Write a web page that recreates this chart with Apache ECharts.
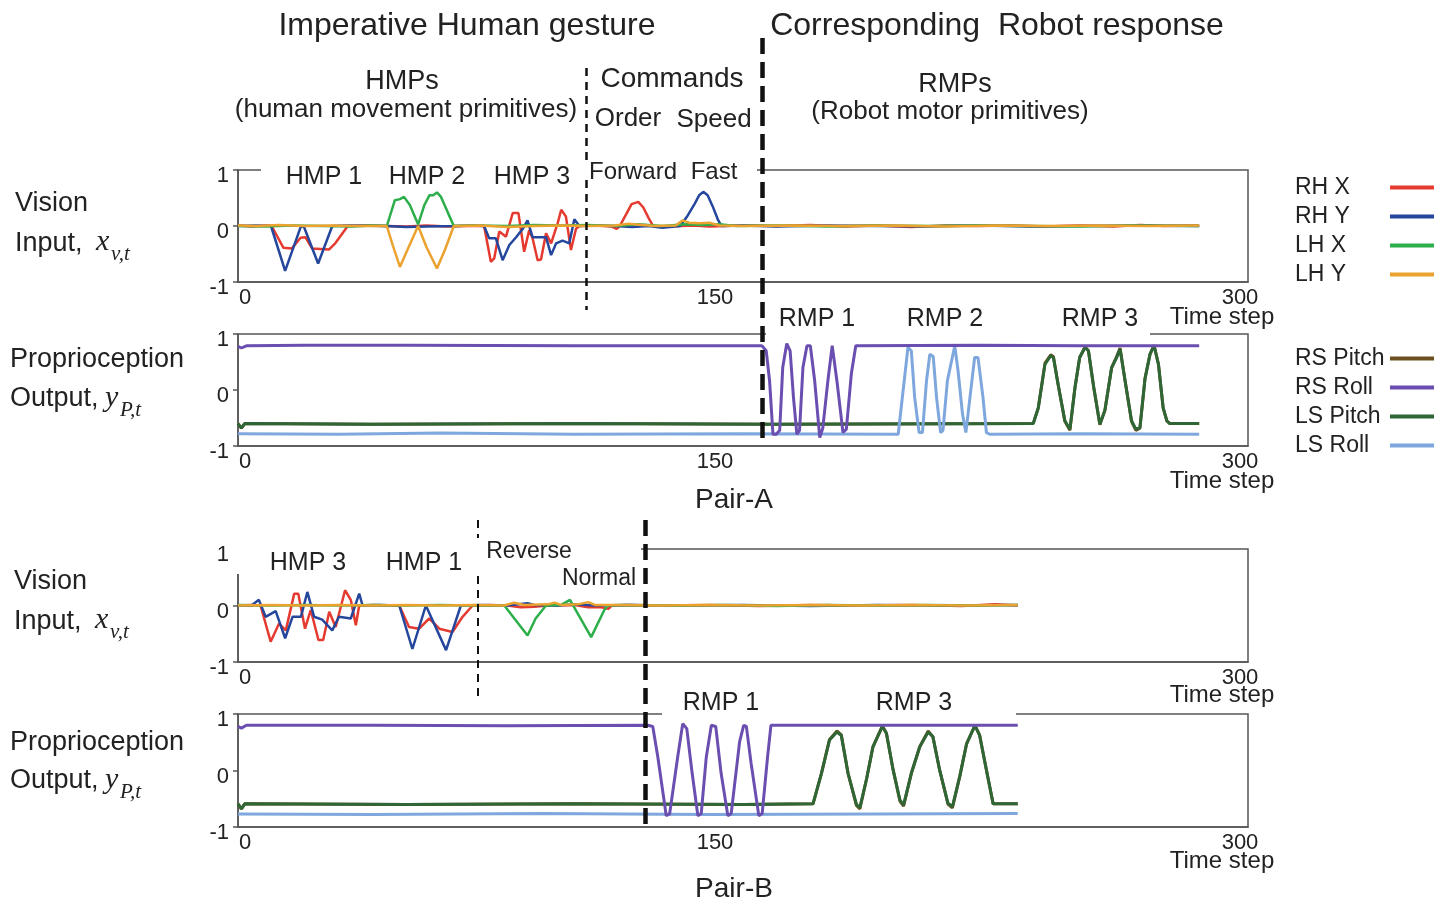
<!DOCTYPE html>
<html>
<head>
<meta charset="utf-8">
<script src="https://cdn.jsdelivr.net/npm/echarts@6/dist/echarts.min.js"></script>
<style>
html,body{margin:0;padding:0;background:#fff;}
#chart{width:1452px;height:905px;}
</style>
</head>
<body>
<div id="chart"></div>
<script>
// ---------------- DATA ([time step, value]) ----------------
const visionNames = ['RH X', 'RH Y', 'LH X', 'LH Y'];
const proprioNames = ['RS Pitch', 'RS Roll', 'LS Pitch', 'LS Roll'];
const xTicks = [0, 150, 300];
const yTicks = [-1, 0, 1];
const dividerT = [103.4, 155.6, 71.3, 120.9];

// Pair-A vision
const A_RHX = [[0,0.01],[4,-0.01],[9,0.01],[10,0],[13.5,-0.39],[16,-0.4],[18.6,-0.21],[20,-0.2],[22,-0.4],[27,-0.42],[29,-0.3],[32.6,0],[38,0.01],[44,0],[50,-0.01],[56,0.01],[62,-0.01],[68,0],[73.1,0],[75.1,-0.64],[76.1,-0.58],[77.6,-0.1],[79.6,-0.19],[81.6,0.23],[83.3,0.23],[85,-0.46],[86.5,-0.07],[87.5,-0.22],[89,-0.61],[90,-0.6],[91.5,-0.13],[93,-0.31],[95,0.06],[96,0.29],[97.4,0.17],[98.9,-0.43],[100.4,-0.05],[101.4,0],[106,0.01],[111,-0.01],[112.5,-0.05],[113.4,0],[115.4,0.22],[116.9,0.39],[118.9,0.43],[120.4,0.33],[121.9,0.15],[123.3,0],[128,-0.01],[135,0.01],[140,-0.01],[150,0.01],[160,0],[170,0.02],[180,-0.01],[190,0.01],[200,-0.02],[210,0.01],[220,0],[230,0.01],[240,-0.01],[250,0.01],[260,-0.01],[268,0.02],[275,0],[285.5,0.01]];
const A_RHY = [[0,0],[5,0.01],[9.8,0],[14,-0.8],[18.6,-0.02],[19.5,0],[23.8,-0.67],[28,0],[32,0.01],[44,0],[50,-0.02],[56,-0.01],[64,0],[70,0.01],[73.1,0],[74.6,-0.22],[76.6,-0.22],[78.6,-0.61],[80.6,-0.34],[82.6,-0.2],[84.6,-0.05],[86,0.1],[87.5,-0.2],[91.5,-0.2],[93,-0.52],[94.5,-0.31],[96.4,-0.26],[98.4,-0.31],[99.9,0.12],[101.4,0],[106,0.01],[112,0],[117,-0.02],[122,0],[126,-0.03],[131.3,0],[133.5,0.18],[135.5,0.38],[137,0.55],[138.2,0.61],[139.5,0.55],[141,0.35],[142.5,0.12],[143.6,0],[150,0.01],[160,-0.01],[175,0.01],[190,0],[205,-0.01],[220,0.01],[235,-0.01],[250,0],[265,0.01],[285.5,0]];
const A_LHX = [[0,0],[8,-0.01],[16,0.01],[25,0],[34,-0.01],[40,0.01],[44.2,0],[46.6,0.46],[48.1,0.48],[49.3,0.52],[51,0.38],[53.5,0.03],[55.4,0.38],[56.9,0.55],[58,0.55],[59.1,0.6],[60.3,0.52],[62.4,0.23],[64.1,0],[70,0.01],[80,0],[88,0.02],[96,0.01],[104,0.02],[112,0],[119,0.03],[126,0],[133,0.03],[138,0.02],[143,0.03],[148,0],[160,0.01],[175,-0.01],[190,0.01],[205,0],[220,0.01],[235,0],[250,-0.01],[265,0.01],[285.5,0]];
const A_LHY = [[0,0.01],[6,0],[12,0.02],[20,0],[28,0.01],[36,0],[44.2,0],[46,-0.35],[48.1,-0.73],[50.5,-0.4],[53.5,0],[56,-0.38],[59.1,-0.76],[61.5,-0.42],[64.1,0],[72,0.01],[80,-0.02],[88,0],[96,0.01],[104,0],[112,0.01],[116,0.04],[120,0.02],[124,0],[130,0.01],[132,0.1],[134,0.06],[137,0.05],[140,0.06],[143,0.01],[150,0],[165,0.01],[180,0],[195,0.01],[210,-0.01],[225,0.01],[240,0],[255,0.01],[270,0],[285.5,0.01]];

// Pair-A proprioception
const A_RSPitch = [[0,-0.6],[1,-0.68],[2,-0.6],[40,-0.61],[100,-0.6],[160,-0.61],[236.2,-0.6],[237.7,-0.32],[239.7,0.48],[241.4,0.63],[242.2,0.6],[243.6,0.1],[245.6,-0.56],[247.1,-0.72],[248.6,0.04],[250,0.58],[251.6,0.77],[252.6,0.7],[254.2,0.04],[256,-0.62],[257.5,-0.36],[259.5,0.4],[261,0.6],[262,0.75],[263.5,0.16],[265.4,-0.56],[266.7,-0.72],[267.9,-0.68],[269.4,0.2],[270.9,0.64],[272.1,0.8],[273.4,0.46],[274.8,-0.32],[275.9,-0.55],[276.8,-0.6],[285.5,-0.6]];
const A_RSRoll = [[0,0.78],[1,0.75],[2.5,0.79],[20,0.8],[50,0.8],[100,0.79],[155.6,0.79],[156.9,0.7],[157.9,0.16],[158.9,-0.79],[159.9,-0.79],[160.9,-0.72],[161.8,0.4],[163,0.83],[164,0.7],[165,-0.14],[166,-0.79],[166.8,-0.72],[167.8,0.4],[169,0.79],[170,0.79],[171.3,0.16],[172.8,-0.85],[173.7,-0.68],[175.2,0.16],[176.5,0.79],[177.9,0.16],[179.7,-0.76],[180.7,-0.7],[182.2,0.3],[183.5,0.79],[220,0.8],[250,0.79],[285.5,0.79]];
const A_LSPitch = [[0,-0.6],[1,-0.68],[2,-0.6],[40,-0.61],[100,-0.6],[160,-0.61],[236.2,-0.6],[237.7,-0.32],[239.7,0.46],[241.4,0.61],[242.2,0.58],[243.6,0.1],[245.6,-0.55],[247.1,-0.7],[248.6,0.04],[250,0.58],[251.6,0.76],[252.6,0.7],[254.2,0.04],[256,-0.61],[257.5,-0.36],[259.5,0.4],[261,0.58],[262,0.73],[263.5,0.16],[265.4,-0.55],[266.7,-0.7],[267.9,-0.67],[269.4,0.2],[270.9,0.64],[272.1,0.79],[273.4,0.46],[274.8,-0.32],[275.9,-0.55],[276.8,-0.6],[285.5,-0.6]];
const A_LSRoll = [[0,-0.78],[30,-0.79],[60,-0.77],[100,-0.79],[150,-0.78],[196.1,-0.79],[199,0.76],[200,0.7],[201,-0.14],[202.3,-0.76],[203.3,-0.76],[204.5,0.16],[205.5,0.64],[206.5,0.6],[207.5,-0.14],[208.7,-0.76],[209.4,-0.72],[210.7,0.16],[212.9,0.79],[213.9,0.33],[215.2,-0.43],[216.2,-0.76],[217.4,-0.14],[218.8,0.58],[219.8,0.58],[221.3,-0.14],[222.3,-0.76],[223.3,-0.79],[250,-0.78],[285.5,-0.79]];

// Pair-B vision
const B_RHX = [[0,0],[4,0.01],[6.7,0],[9.7,-0.64],[12.2,-0.32],[14.2,-0.44],[16.7,0.21],[17.9,0.21],[19.9,-0.41],[21.6,-0.08],[23.9,-0.61],[25.3,-0.61],[27.1,-0.11],[29,-0.38],[31.8,0.27],[33.5,0.1],[35,-0.35],[36,0],[40,0.01],[47.9,0],[50.8,-0.38],[53.8,-0.41],[56.8,-0.23],[59.8,-0.41],[63.7,-0.47],[66.7,-0.2],[69.7,0],[75,0.01],[80,0],[84,-0.03],[88,-0.02],[92,0],[100,0.01],[104,-0.03],[108,-0.03],[110,-0.06],[111,0],[116,0.01],[125,0],[140,0.01],[155,-0.01],[170,0.01],[185,0],[200,0.01],[215,-0.01],[225,0.02],[231.6,0]];
const B_RHY = [[0,0],[4,0],[6.2,0.1],[8.2,-0.2],[11.2,-0.1],[14,-0.58],[16.2,-0.2],[18.7,-0.2],[20.6,0.24],[22.6,-0.2],[25,-0.25],[28,-0.44],[30,-0.2],[33.5,-0.23],[36,0.21],[37,0],[42,0.01],[47.9,0],[51.8,-0.77],[55.8,0],[61.8,-0.79],[66.2,0],[72,0.01],[80,0],[86,0.04],[88,0.01],[95,0],[100,0.02],[106,0],[115,0.01],[130,0],[150,0.01],[170,-0.01],[190,0.01],[210,0],[231.6,0.01]];
const B_LHX = [[0,0.01],[10,0],[20,0.01],[30,0],[40,0.01],[50,0],[60,0.01],[70,0],[79.1,0],[86,-0.53],[88.4,-0.23],[91.5,0],[96,0.01],[98.6,0.1],[104.9,-0.56],[108.8,-0.08],[109.8,0],[115,0.01],[130,0],[145,0.01],[160,-0.01],[175,0.01],[190,0],[205,0.01],[220,0],[231.6,0.01]];
const B_LHY = [[0,0],[10,0.01],[20,0],[30,0.01],[40,0],[50,0.01],[60,0],[70,0.01],[79,0],[82,0.05],[85,0.01],[92,0.02],[94,0.05],[96,0.01],[101,0.02],[104,0.06],[106,0.01],[112,0.01],[125,0],[140,0.01],[155,0],[170,0.01],[185,0],[200,0.01],[215,0],[231.6,0.01]];

// Pair-B proprioception
const B_RSPitch = [[0,-0.59],[1,-0.68],[2,-0.59],[50,-0.6],[100,-0.59],[150,-0.6],[170.8,-0.59],[173.3,-0.05],[175.7,0.55],[177.9,0.7],[179.2,0.63],[181.2,-0.05],[183.7,-0.62],[184.7,-0.68],[186.7,-0.15],[188.6,0.42],[191.4,0.79],[192.6,0.66],[194.6,0.01],[196.6,-0.54],[197.7,-0.63],[200,-0.05],[202.5,0.42],[205,0.7],[206.4,0.6],[208.4,0.01],[210.9,-0.6],[212.2,-0.66],[214.4,-0.1],[216.4,0.47],[218.9,0.8],[220.3,0.62],[222.3,0.01],[224.3,-0.59],[231.6,-0.59]];
const B_RSRoll = [[0,0.78],[1,0.75],[2.5,0.8],[40,0.8],[80,0.79],[121.7,0.8],[123.2,0.78],[124.7,0.24],[127.2,-0.8],[128.2,-0.77],[130.6,0.24],[132.1,0.83],[133.3,0.74],[134.9,-0.05],[136.6,-0.8],[137.6,-0.76],[139.1,0.24],[140.6,0.8],[141.9,0.78],[143.5,-0.05],[145.5,-0.8],[146.5,-0.76],[149,0.51],[150.2,0.8],[151,0.78],[152.4,0.13],[154.7,-0.8],[155.7,-0.76],[157.3,0.24],[158.3,0.8],[190,0.8],[231.6,0.8]];
const B_LSPitch = [[0,-0.59],[1,-0.68],[2,-0.59],[50,-0.6],[100,-0.59],[150,-0.6],[170.8,-0.59],[173.3,-0.05],[175.7,0.54],[177.9,0.68],[179.2,0.62],[181.2,-0.05],[183.7,-0.6],[184.7,-0.66],[186.7,-0.15],[188.6,0.42],[191.4,0.78],[192.6,0.66],[194.6,0.01],[196.6,-0.52],[197.7,-0.61],[200,-0.05],[202.5,0.42],[205,0.68],[206.4,0.6],[208.4,0.01],[210.9,-0.58],[212.2,-0.64],[214.4,-0.1],[216.4,0.47],[218.9,0.8],[220.3,0.62],[222.3,0.01],[224.3,-0.59],[231.6,-0.59]];
const B_LSRoll = [[0,-0.77],[40,-0.78],[90,-0.76],[140,-0.78],[190,-0.77],[231.6,-0.76]];

// ---------------- STYLE ----------------
const FONT = "'Liberation Sans', Arial, sans-serif";
const SERIF = "'Liberation Serif', 'DejaVu Serif', serif";
const colors = {
  'RH X': '#e53a2f', 'RH Y': '#24469c', 'LH X': '#2cae4a', 'LH Y': '#eba22f',
  'RS Pitch': '#6e5020', 'RS Roll': '#6b4fb0', 'LS Pitch': '#2f6636', 'LS Roll': '#7ea7de'
};
const AX = '#555';

const panels = [
  {top: 170, height: 112, show150: true},
  {top: 334, height: 112, show150: true},
  {top: 549, height: 113, show150: false},
  {top: 714, height: 113, show150: true}
];
const LEFT = 238, WIDTH = 1010;

const grids = panels.map(p => ({left: LEFT, width: WIDTH, top: p.top, height: p.height, show: true,
  borderColor: AX, borderWidth: 1.5, backgroundColor: 'transparent'}));
grids.push({left: LEFT, width: WIDTH, top: 0, height: 905, show: false});

const base = {fontSize: 22, fontFamily: FONT, color: '#222'};
const labRich = {
  a: Object.assign({}, base, {padding: [0, 0, 0, 14]}),
  b: Object.assign({}, base, {padding: [0, 56, 0, 0]}),
  c: Object.assign({}, base, {padding: [0, 16, 0, 0]})
};
const yRich = {v: Object.assign({}, base, {padding: [12, 0, 0, 0]})};
const xAxes = panels.map((p, i) => ({
  gridIndex: i, type: 'value', min: xTicks[0], max: xTicks[2], interval: xTicks[1] - xTicks[0],
  axisLine: {show: true, onZero: false, lineStyle: {color: AX, width: 1.5}},
  axisTick: {show: false}, splitLine: {show: false},
  axisLabel: {margin: 5, formatter: v => v === 0 ? '{a|0}' : (v === 150 ? (p.show150 ? '{b|150}' : '') : '{c|300}'), rich: labRich}
}));
xAxes.push({gridIndex: 4, type: 'value', min: 0, max: 300, show: false});
const yAxes = panels.map((p, i) => ({
  gridIndex: i, type: 'value', min: yTicks[0], max: yTicks[2], interval: 1,
  axisLine: {show: true, onZero: false, lineStyle: {color: AX, width: 1.5}},
  axisTick: {show: true, length: 5, lineStyle: {color: AX, width: 1.5}},
  splitLine: {show: false},
  axisLabel: {margin: 9, formatter: v => '{v|' + v + '}', rich: yRich}
}));
yAxes.push({gridIndex: 4, type: 'value', min: 0, max: 905, inverse: true, show: false});

function mk(name, data, gi, w) {
  return {name, type: 'line', xAxisIndex: gi, yAxisIndex: gi, data, symbol: 'none', showSymbol: false,
    lineStyle: {color: colors[name], width: w}, itemStyle: {color: colors[name]}, z: 2, silent: true};
}
const series = [
  mk('RH X', A_RHX, 0, 2.5), mk('RH Y', A_RHY, 0, 2.5), mk('LH X', A_LHX, 0, 2.5), mk('LH Y', A_LHY, 0, 2.5),
  mk('RS Pitch', A_RSPitch, 1, 3), mk('LS Pitch', A_LSPitch, 1, 3), mk('LS Roll', A_LSRoll, 1, 3), mk('RS Roll', A_RSRoll, 1, 3),
  mk('RH X', B_RHX, 2, 2.5), mk('RH Y', B_RHY, 2, 2.5), mk('LH X', B_LHX, 2, 2.5), mk('LH Y', B_LHY, 2, 2.5),
  mk('RS Pitch', B_RSPitch, 3, 3), mk('LS Pitch', B_LSPitch, 3, 3), mk('LS Roll', B_LSRoll, 3, 3), mk('RS Roll', B_RSRoll, 3, 3)
];
const thin = {color: '#111', width: 2.5, type: [8, 6]};
const thick = {color: '#111', width: 4.5, type: [16, 8]};
series.push({
  type: 'line', xAxisIndex: 4, yAxisIndex: 4, data: [[0, -100]], symbol: 'none', z: 100, silent: true,
  lineStyle: {width: 0},
  markLine: {symbol: ['none', 'none'], silent: true, label: {show: false}, animation: false,
    data: [
      [{coord: [dividerT[0], 68], lineStyle: thin}, {coord: [dividerT[0], 310]}],
      [{coord: [dividerT[1], 38], lineStyle: thick}, {coord: [dividerT[1], 446]}],
      [{coord: [dividerT[2], 520], lineStyle: Object.assign({}, thin, {width: 2})}, {coord: [dividerT[2], 697]}],
      [{coord: [dividerT[3], 520], lineStyle: thick}, {coord: [dividerT[3], 832]}]
    ]}
});

function T(text, x, y, size, align, extra) {
  return Object.assign({type: 'text', x, y, z: 60, silent: true,
    style: Object.assign({text, fontSize: size, fontFamily: FONT, fill: '#222',
      align: align || 'center', verticalAlign: 'middle', textAlign: align || 'center', textVerticalAlign: 'middle'}, extra || {})});
}
function M(text, x, y, size) {
  return T(text, x, y, size, 'left', {fontFamily: SERIF, fontStyle: 'italic'});
}
function R(x, y, w, h) {
  return {type: 'rect', z: 50, silent: true, shape: {x, y, width: w, height: h}, style: {fill: '#fff'}};
}

const graphics = [
  R(261, 162, 496, 14), R(766, 327, 384, 14), R(233, 538, 408, 36), R(662, 707, 354, 14),
  T('Imperative Human gesture', 467, 26, 32),
  T('Corresponding  Robot response', 997, 26, 32),
  T('HMPs', 402, 82, 27),
  T('(human movement primitives)', 406, 110, 26),
  T('Commands', 672, 79, 28),
  T('Order', 628, 119, 26), T('Speed', 714, 120, 26),
  T('RMPs', 955, 85, 27),
  T('(Robot motor primitives)', 950, 112, 26),
  T('HMP 1', 324, 177, 25), T('HMP 2', 427, 177, 25), T('HMP 3', 532, 177, 25),
  T('Forward', 633, 172, 24), T('Fast', 714, 172, 24),
  T('RMP 1', 817, 319, 25), T('RMP 2', 945, 319, 25), T('RMP 3', 1100, 319, 25),
  T('Time step', 1222, 317, 24), T('Time step', 1222, 481, 24), T('Time step', 1222, 695, 24), T('Time step', 1222, 861, 24),
  T('Pair-A', 734, 500, 28), T('Pair-B', 734, 889, 28),
  T('Vision', 15, 204, 27, 'left'), T('Input,', 15, 244, 27, 'left'), M('x', 96, 242, 30), M('v,t', 111, 254, 21),
  T('Proprioception', 10, 360, 27, 'left'), T('Output,', 10, 399, 27, 'left'), M('y', 105, 398, 30), M('P,t', 120, 410, 21),
  T('Vision', 14, 582, 27, 'left'), T('Input,', 14, 622, 27, 'left'), M('x', 95, 620, 30), M('v,t', 110, 632, 21),
  T('Proprioception', 10, 743, 27, 'left'), T('Output,', 10, 781, 27, 'left'), M('y', 105, 780, 30), M('P,t', 120, 792, 21),
  T('HMP 3', 308, 563, 25), T('HMP 1', 424, 563, 25),
  T('Reverse', 529, 552, 23), T('Normal', 599, 579, 23),
  T('RMP 1', 721, 703, 25), T('RMP 3', 914, 703, 25)
];

const legendText = {fontSize: 23, fontFamily: FONT, color: '#222',
  rich: {t: {fontSize: 23, fontFamily: FONT, color: '#222', width: 90, align: 'left', lineHeight: 26}}};
const option = {
  animation: false,
  backgroundColor: '#fff',
  grid: grids, xAxis: xAxes, yAxis: yAxes, series,
  legend: [
    {data: visionNames, orient: 'vertical', left: 1290, top: 171, align: 'right', icon: 'rect',
      itemWidth: 44, itemHeight: 4, itemGap: 6, textStyle: legendText, formatter: '{t|{name}}', selectedMode: false},
    {data: proprioNames, orient: 'vertical', left: 1290, top: 342, align: 'right', icon: 'rect',
      itemWidth: 44, itemHeight: 4, itemGap: 6, textStyle: legendText, formatter: '{t|{name}}', selectedMode: false}
  ],
  graphic: graphics
};
const chart = echarts.init(document.getElementById('chart'), null, {renderer: 'canvas'});
chart.setOption(option);
</script>
</body>
</html>
